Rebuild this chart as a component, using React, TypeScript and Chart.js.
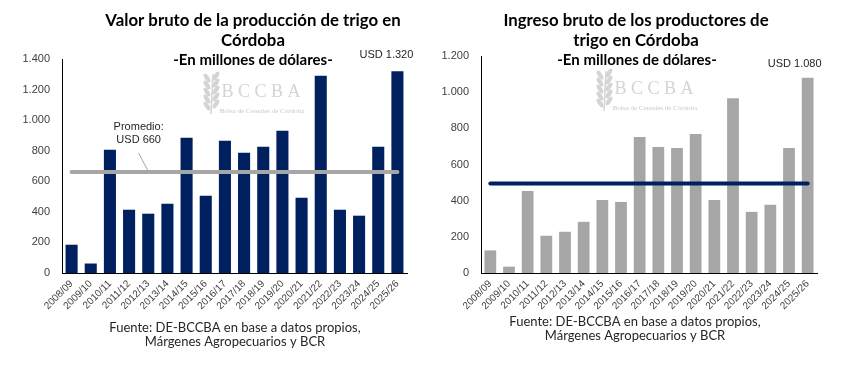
import React, { useEffect, useRef } from "react";
import { Chart, registerables } from "chart.js";
Chart.register(...registerables);

const categories = [
  "2008/09", "2009/10", "2010/11", "2011/12", "2012/13", "2013/14", "2014/15", "2015/16", "2016/17",
  "2017/18", "2018/19", "2019/20", "2020/21", "2021/22", "2022/23", "2023/24", "2024/25", "2025/26",
];
const valorBruto = [185, 62, 806, 414, 388, 453, 885, 505, 865, 786, 826, 930, 492, 1290, 414, 375, 826, 1320];
const promedioValor = 660;
const ingresoBruto = [125, 35, 454, 206, 228, 283, 404, 393, 752, 697, 691, 768, 404, 967, 338, 377, 691, 1080];
const promedioIngreso = 495;

const leftTitle = ["Valor bruto de la producción de trigo en", "Córdoba"];
const rightTitle = ["Ingreso bruto de los productores de", "trigo en Córdoba"];
const subtitleText = "-En millones de dólares-";
const fuenteText = ["Fuente: DE-BCCBA en base a datos propios,", "Márgenes Agropecuarios y BCR"];
const leftMax = 1400;
const rightMax = 1200;
const tickStep = 200;

const fmt = (v: number) => String(v).replace(/\B(?=(\d{3})+(?!\d))/g, ".");

type Opts = {
  values: number[];
  avg: number;
  max: number;
  barColor: string;
  lineColor: string;
  title: string[];
  titleX: number;
  subX: number;
  fuenteX: number;
  fuenteY: number;
  top: number;
  right: number;
  yWidth: number;
  wmX: number;
  wmY: number;
  lastLabelDx: number;
  lastLabelDy: number;
  showPromedio: boolean;
};

function drawWatermark(ctx: CanvasRenderingContext2D, cx: number, cy: number) {
  ctx.save();
  ctx.fillStyle = "#d4d4d4";
  ctx.strokeStyle = "#d4d4d4";
  const ix = cx - 52;
  ctx.lineWidth = 1.5;
  ctx.beginPath();
  ctx.moveTo(ix + 2, cy + 22);
  ctx.lineTo(ix + 4, cy - 18);
  ctx.stroke();
  for (let i = 0; i < 5; i++) {
    const yy = cy - 14 + i * 7;
    ctx.beginPath();
    ctx.ellipse(ix - 2, yy, 2.2, 5, -0.6, 0, Math.PI * 2);
    ctx.fill();
    ctx.beginPath();
    ctx.ellipse(ix + 7, yy - 2, 2.2, 5, 0.6, 0, Math.PI * 2);
    ctx.fill();
  }
  ctx.font = "18px 'Liberation Serif'";
  ctx.textAlign = "center";
  ctx.textBaseline = "middle";
  ctx.fillText("B C C B A", cx, cy);
  ctx.font = "7px 'Liberation Serif'";
  ctx.fillStyle = "#c8c8c8";
  ctx.fillText("Bolsa de Cereales de Córdoba", cx + 1, cy + 19);
  ctx.restore();
}

function makeConfig(o: Opts): any {
  const textPlugin = {
    id: "texts",
    beforeDatasetsDraw(chart: any) {
      drawWatermark(chart.ctx, o.wmX, o.wmY);
    },
    afterDraw(chart: any) {
      const ctx = chart.ctx as CanvasRenderingContext2D;
      const xs = chart.scales.x;
      const ys = chart.scales.y;
      ctx.save();
      ctx.textAlign = "center";
      ctx.textBaseline = "middle";
      ctx.fillStyle = "#000000";
      ctx.font = "bold 16.8px Lato";
      o.title.forEach((t, i) => ctx.fillText(t, o.titleX, 21 + i * 19.5));
      ctx.font = "bold 15px Lato";
      ctx.fillText(subtitleText, o.subX, 60);
      ctx.fillStyle = "#262626";
      ctx.font = "13px Lato";
      fuenteText.forEach((t, i) => ctx.fillText(t, o.fuenteX, o.fuenteY + i * 14));
      const last = o.values.length - 1;
      ctx.fillStyle = "#262626";
      ctx.font = "11px 'Liberation Sans'";
      ctx.fillText(
        "USD " + fmt(o.values[last]),
        xs.getPixelForValue(last) + o.lastLabelDx,
        ys.getPixelForValue(o.values[last]) + o.lastLabelDy
      );
      if (o.showPromedio) {
        const px = (xs.getPixelForValue(3) + xs.getPixelForValue(4)) / 2;
        const py = ys.getPixelForValue(o.avg);
        ctx.fillText("Promedio:", px, py - 45);
        ctx.fillText("USD " + fmt(o.avg), px, py - 32);
        ctx.strokeStyle = "#a6a6a6";
        ctx.lineWidth = 1;
        ctx.beginPath();
        ctx.moveTo(px, py - 19);
        ctx.lineTo(px + 9, py - 2);
        ctx.stroke();
      }
      ctx.restore();
    },
  };

  return {
    type: "bar",
    data: {
      labels: categories,
      datasets: [
        {
          type: "line",
          data: categories.map(() => o.avg),
          borderColor: o.lineColor,
          borderWidth: 4,
          borderCapStyle: "round",
          pointRadius: 0,
          order: 0,
        },
        {
          type: "bar",
          data: o.values,
          backgroundColor: o.barColor,
          categoryPercentage: 1,
          barPercentage: 0.63,
          order: 1,
        },
      ],
    },
    options: {
      responsive: false,
      animation: false,
      events: [],
      layout: { padding: { top: o.top, right: o.right, left: 0, bottom: 0 } },
      plugins: { legend: { display: false }, tooltip: { enabled: false }, title: { display: false } },
      scales: {
        x: {
          grid: { display: false, drawTicks: false },
          border: { display: true, color: "#000000", width: 1 },
          ticks: {
            font: { family: "'Liberation Sans'", size: 10 },
            color: "#404040",
            minRotation: 45,
            maxRotation: 45,
            autoSkip: false,
            padding: 5,
          },
          afterFit(scale: any) {
            scale.height = 92;
          },
        },
        y: {
          min: 0,
          max: o.max,
          grid: { display: false, drawTicks: false },
          border: { display: true, color: "#000000", width: 1 },
          ticks: {
            stepSize: tickStep,
            font: { family: "'Liberation Sans'", size: 11 },
            color: "#404040",
            padding: 12,
            callback: (v: number) => fmt(v),
          },
          afterFit(scale: any) {
            scale.width = o.yWidth;
          },
        },
      },
    },
    plugins: [textPlugin],
  };
}

function ChartCanvas({ config, width, height }: { config: any; width: number; height: number }) {
  const ref = useRef<HTMLCanvasElement | null>(null);
  useEffect(() => {
    if (!ref.current) return;
    const c = new Chart(ref.current, config);
    return () => c.destroy();
  }, [config]);
  return <canvas ref={ref} width={width} height={height} style={{ display: "block", width, height }} />;
}

const leftConfig = makeConfig({
  values: valorBruto,
  avg: promedioValor,
  max: leftMax,
  barColor: "#002060",
  lineColor: "#a6a6a6",
  title: leftTitle,
  titleX: 253,
  subX: 253,
  fuenteX: 235,
  fuenteY: 328,
  top: 59,
  right: 13,
  yWidth: 62,
  wmX: 261,
  wmY: 92,
  lastLabelDx: -11,
  lastLabelDy: -16,
  showPromedio: true,
});

const rightConfig = makeConfig({
  values: ingresoBruto,
  avg: promedioIngreso,
  max: rightMax,
  barColor: "#a6a6a6",
  lineColor: "#002060",
  title: rightTitle,
  titleX: 216,
  subX: 217,
  fuenteX: 215,
  fuenteY: 322,
  top: 56,
  right: 30,
  yWidth: 61,
  wmX: 234,
  wmY: 89,
  lastLabelDx: -13,
  lastLabelDy: -14,
  showPromedio: false,
});

export default function App() {
  return (
    <div style={{ position: "absolute", left: 0, top: 0, width: 847, height: 365, background: "#ffffff", display: "flex" }}>
      <ChartCanvas config={leftConfig} width={420} height={365} />
      <ChartCanvas config={rightConfig} width={427} height={365} />
    </div>
  );
}
